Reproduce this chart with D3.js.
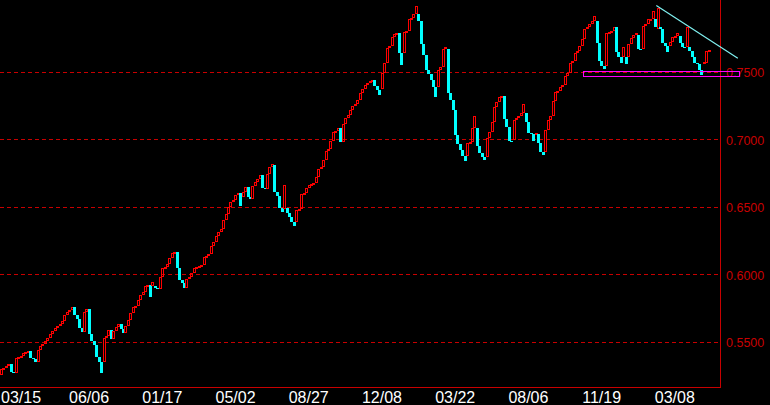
<!DOCTYPE html>
<html><head><meta charset="utf-8">
<script src="https://cdn.jsdelivr.net/npm/d3@7"></script>
<style>html,body{margin:0;padding:0;background:#000;overflow:hidden}</style>
</head><body>
<svg id="chart" width="770" height="405"></svg>
<script>
// ---- data ----
const closes = [
0.5305,0.5312,0.5327,0.5342,0.5283,0.5275,0.5386,0.5393,0.5401,0.5423,
0.5430,0.5438,0.5386,0.5378,0.5356,0.5445,0.5475,0.5489,0.5511,0.5534,
0.5563,0.5585,0.5608,0.5622,0.5637,0.5659,0.5704,0.5726,0.5740,0.5763,
0.5704,0.5674,0.5608,0.5578,0.5726,0.5748,0.5563,0.5511,0.5482,0.5393,
0.5356,0.5275,0.5534,0.5548,0.5593,0.5526,0.5585,0.5615,0.5637,0.5600,
0.5571,0.5622,0.5667,0.5718,0.5763,0.5770,0.5814,0.5851,0.5873,0.5918,
0.5925,0.5837,0.5947,0.5903,0.5896,0.5984,0.6051,0.6058,0.6080,0.6124,
0.6161,0.6169,0.6051,0.5962,0.5940,0.5903,0.5969,0.5984,0.6014,0.6051,
0.6058,0.6065,0.6073,0.6132,0.6139,0.6154,0.6213,0.6243,0.6287,0.6317,
0.6339,0.6405,0.6449,0.6501,0.6538,0.6553,0.6590,0.6605,0.6508,0.6612,
0.6649,0.6575,0.6560,0.6656,0.6686,0.6708,0.6738,0.6641,0.6634,0.6745,
0.6797,0.6819,0.6612,0.6583,0.6494,0.6464,0.6664,0.6457,0.6427,0.6390,
0.6361,0.6479,0.6486,0.6597,0.6605,0.6641,0.6664,0.6671,0.6678,0.6723,
0.6782,0.6797,0.6848,0.6915,0.6930,0.6989,0.7055,0.7062,0.7085,0.6981,
0.7114,0.7158,0.7181,0.7218,0.7247,0.7262,0.7292,0.7343,0.7373,0.7402,
0.7417,0.7432,0.7439,0.7395,0.7365,0.7328,0.7491,0.7565,0.7676,0.7690,
0.7757,0.7779,0.7786,0.7639,0.7550,0.7794,0.7801,0.7890,0.7904,0.7927,
0.7986,0.7882,0.7705,0.7624,0.7513,0.7483,0.7439,0.7387,0.7314,0.7513,
0.7535,0.7668,0.7683,0.7343,0.7292,0.7218,0.7033,0.6966,0.6922,0.6878,
0.6841,0.6974,0.6981,0.7085,0.7173,0.6952,0.6900,0.6870,0.6848,0.7011,
0.7055,0.7129,0.7240,0.7277,0.7314,0.7321,0.7151,0.7092,0.6989,0.6981,
0.7144,0.7158,0.7173,0.7195,0.7262,0.7129,0.7048,0.7040,0.6989,0.7048,
0.6974,0.6907,0.6885,0.7070,0.7144,0.7173,0.7284,0.7350,0.7358,0.7387,
0.7402,0.7469,0.7491,0.7565,0.7580,0.7639,0.7653,0.7690,0.7742,0.7823,
0.7831,0.7860,0.7882,0.7919,0.7712,0.7580,0.7543,0.7520,0.7786,0.7794,
0.7801,0.7831,0.7646,0.7609,0.7565,0.7683,0.7557,0.7705,0.7749,0.7772,
0.7786,0.7668,0.7661,0.7838,0.7860,0.7890,0.7897,0.7949,0.7831,0.7978,
0.7823,0.7712,0.7690,0.7646,0.7720,0.7757,0.7764,0.7786,0.7712,0.7683,
0.7676,0.7831,0.7653,0.7609,0.7565,0.7557,0.7513,0.7476,0.7572,0.7653,
0.7661
];
// opens that do not equal the previous close: [bar index, open]
const openGaps = [
[0,0.5260],[42,0.5356],[62,0.5918],[63,0.5918],[99,0.6575],[112,0.6811],
[116,0.6486],[117,0.6494],[121,0.6390],[156,0.7373],[165,0.7639],[171,0.7927],
[179,0.7387],[183,0.7668],[191,0.6878],[195,0.7085],[199,0.6870],[210,0.6996],
[215,0.7195],[219,0.7040],[220,0.7040],[223,0.6907],[244,0.7882],[248,0.7543],
[255,0.7609],[256,0.7609],[257,0.7609],[261,0.7772],[263,0.7668],[268,0.7897],
[269,0.7823],[270,0.7831],[274,0.7690],[278,0.7764],[281,0.7683],[282,0.7683],
[288,0.7557],[289,0.7565],[290,0.7653]
];
const xLabels = ["03/15","06/06","01/17","05/02","08/27","12/08","03/22","08/06","11/19","03/08"];
const xLabelIdx = [6,36,66,96,126,156,186,216,246,276];
const yTicks = [0.55,0.60,0.65,0.70,0.75];
const trendLine = [[268.9,0.7993],[302.3,0.7602]];   // [bar position, price]
const zoneBox = [238.9,302.8,0.7505,0.7469];           // [from bar, to bar, top price, bottom price]

// ---- drawing ----
const svg = d3.select("#chart");
const W = 770, H = 405, plotR = 720, plotB = 387;
svg.append("rect").attr("width",W).attr("height",H).attr("fill","#000");

const slots = 295;
const x = d3.scaleLinear().domain([0, slots]).range([0, plotR]);
const y = d3.scaleLinear().domain([0.55, 0.80]).range([342.2, 4.6]);
const axisCol = "#C80000";
const fontFam = "'Liberation Sans Narrow','Arial Narrow','Liberation Sans',sans-serif";

// grid lines
svg.append("g").selectAll("line").data(yTicks).join("line")
  .attr("x1",0).attr("x2",plotR)
  .attr("y1",d=>Math.floor(y(d))+0.5).attr("y2",d=>Math.floor(y(d))+0.5)
  .attr("stroke",axisCol).attr("stroke-width",1).attr("stroke-dasharray","4,3");

// y axis on the right
const yAxis = d3.axisRight(y).tickValues(yTicks).tickSize(0).tickPadding(0).tickFormat(d3.format(".4f"));
const ga = svg.append("g").attr("transform",`translate(${plotR+6},0)`).call(yAxis);
ga.select(".domain").remove();
ga.selectAll("text").attr("fill",axisCol)
  .attr("font-family",fontFam)
  .attr("font-size","12.5px").attr("x",0).attr("dy","0.36em");

// candles
const gapMap = new Map(openGaps);
const bars = closes.map((c,i)=>{
  const o = gapMap.has(i) ? gapMap.get(i) : (i>0 ? closes[i-1] : c);
  return {i, o, c};
});
const gc = svg.append("g").attr("shape-rendering","crispEdges");
bars.forEach(b=>{
  const left = Math.round(x(b.i));
  const yt = Math.round(y(Math.max(b.o,b.c)));
  const yb = Math.round(y(Math.min(b.o,b.c)));
  const up = b.c >= b.o;
  if (up) {
    const h = yb - yt;
    if (h < 3) {
      gc.append("rect").attr("x",left).attr("y",yt).attr("width",3).attr("height",Math.max(h,2)).attr("fill","#FF0000");
    } else {
      gc.append("rect").attr("x",left+0.5).attr("y",yt+0.5).attr("width",2).attr("height",h-1)
        .attr("fill","none").attr("stroke","#FF0000").attr("stroke-width",1);
    }
  } else {
    gc.append("rect").attr("x",left).attr("y",yt).attr("width",3).attr("height",Math.max(yb-yt,1)).attr("fill","#00FFFF");
  }
});

// axes lines
svg.append("line").attr("x1",plotR+0.5).attr("x2",plotR+0.5).attr("y1",0).attr("y2",plotB+0.5)
  .attr("stroke",axisCol).attr("stroke-width",1);
svg.append("line").attr("x1",0).attr("x2",plotR+1).attr("y1",plotB+0.5).attr("y2",plotB+0.5)
  .attr("stroke",axisCol).attr("stroke-width",1);

// x labels (kept inside the picture)
svg.append("g").selectAll("text").data(xLabels).join("text")
  .attr("x",(d,k)=>x(xLabelIdx[k]+0.5)).attr("y",403)
  .attr("text-anchor","middle").attr("fill","#FFFFFF")
  .attr("font-family",fontFam)
  .attr("font-size","16px").text(d=>d)
  .each(function(){
    const bb = this.getBBox();
    if (bb.x < 1) d3.select(this).attr("x", +d3.select(this).attr("x") + (1 - bb.x));
  });

// trend line
svg.append("line")
  .attr("x1",x(trendLine[0][0])).attr("y1",y(trendLine[0][1]))
  .attr("x2",x(trendLine[1][0])).attr("y2",y(trendLine[1][1]))
  .attr("stroke","#7FF0F0").attr("stroke-width",1.2);

// zone rectangle
svg.append("rect")
  .attr("x",Math.round(x(zoneBox[0]))+0.5).attr("y",Math.round(y(zoneBox[2]))+0.5)
  .attr("width",Math.round(x(zoneBox[1]))-Math.round(x(zoneBox[0])))
  .attr("height",Math.round(y(zoneBox[3]))-Math.round(y(zoneBox[2])))
  .attr("fill","none").attr("stroke","#FF00FF").attr("stroke-width",1).attr("shape-rendering","crispEdges");
</script>
</body></html>
